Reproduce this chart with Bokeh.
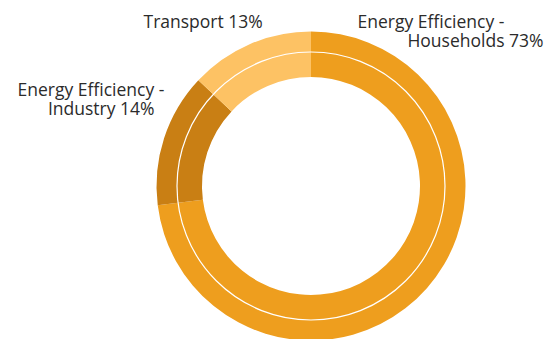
import numpy as np
from bokeh.plotting import figure
from bokeh.models import ColumnDataSource
from bokeh.core.properties import value
from bokeh.embed import file_html
from bokeh.resources import INLINE

categories = ["Energy Efficiency - Households", "Energy Efficiency - Industry", "Transport"]
shares = [73, 14, 13]
colors = ["#EE9E1E", "#C97F14", "#FDC264"]

W, H = 550, 339
cx, cy = 310.5, H - 185.5
r_out, r_mid, r_in = 154.5, 134, 109

vals = np.array(shares, dtype=float)
frac = vals / vals.sum()
ends = np.pi / 2 - 2 * np.pi * np.cumsum(frac)
starts = np.concatenate([[np.pi / 2], ends[:-1]])

p = figure(width=W, height=H, x_range=(0, W), y_range=(0, H),
           output_backend="svg", toolbar_location=None, min_border=0)
p.axis.visible = False
p.grid.visible = False
p.outline_line_color = None
p.background_fill_color = "white"
p.border_fill_color = "white"

src = ColumnDataSource(dict(start=ends, end=starts, color=colors))
p.annular_wedge(x=cx, y=cy, inner_radius=r_in, outer_radius=r_out,
                start_angle="start", end_angle="end", fill_color="color",
                line_color=None, source=src)
p.circle(x=[cx], y=[cy], radius=r_mid, fill_color=None, line_color="white", line_width=1.2)

lab = [f"{c.split(' - ')[-1]} {v}%" for c, v in zip(categories, shares)]
font = value("Open Sans")
tx = dict(text_font=font, text_font_size="17.5px", text_color="#2b2b2b", text_baseline="alphabetic")
# Households
p.text(x=[357], y=[H - 20], text=["Energy Efficiency -"], text_align="left", **tx)
p.text(x=[543], y=[H - 39], text=[lab[0]], text_align="right", **tx)
# Industry
p.text(x=[17], y=[H - 88], text=["Energy Efficiency -"], text_align="left", **tx)
p.text(x=[154], y=[H - 107], text=[lab[1]], text_align="right", **tx)
# Transport
p.text(x=[143], y=[H - 20], text=[lab[2]], text_align="left", **tx)

open("out.html", "w").write(file_html(p, INLINE))
